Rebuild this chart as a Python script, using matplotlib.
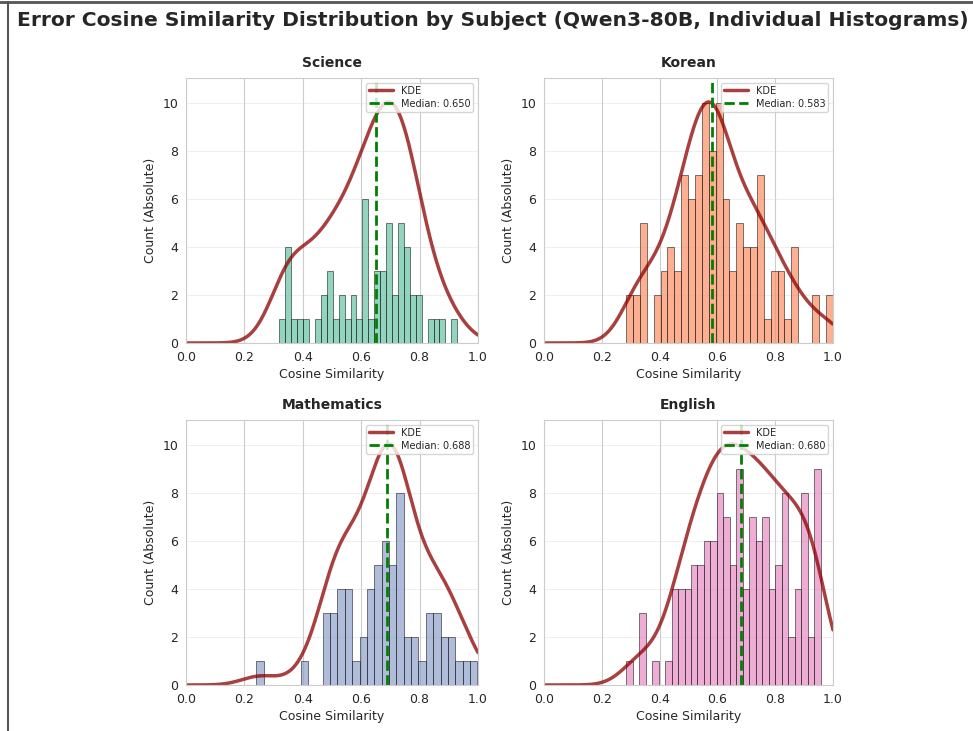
import numpy as np
import matplotlib
matplotlib.use("Agg")
import matplotlib.pyplot as plt
import seaborn as sns
from matplotlib.lines import Line2D

# histogram counts per subject (30 bins each)
subjects = ["Science", "Korean", "Mathematics", "English"]
science_counts = [1, 4, 1, 1, 1, 0, 1, 2, 3, 1, 2, 1, 2, 1, 6,
                  1, 3, 3, 5, 2, 5, 4, 2, 2, 0, 1, 1, 1, 0, 1]
korean_counts = [2, 2, 5, 0, 2, 3, 4, 3, 7, 6, 7, 10, 8, 10, 6,
                 3, 5, 4, 4, 7, 1, 3, 3, 1, 4, 0, 0, 2, 0, 2]
math_counts = [1, 0, 0, 0, 0, 0, 1, 0, 0, 3, 3, 4, 4, 1, 2,
               4, 5, 6, 5, 8, 2, 2, 1, 3, 3, 2, 2, 1, 1, 1]
english_counts = [1, 0, 3, 0, 1, 0, 1, 4, 4, 4, 5, 5, 6, 6, 8,
                  7, 5, 9, 4, 7, 6, 7, 4, 5, 8, 2, 4, 8, 2, 9]
# data min / max of each subject (histogram range)
bin_ranges = [(0.320, 0.929), (0.284, 0.999), (0.241, 0.998), (0.284, 0.958)]
medians = [0.650, 0.583, 0.688, 0.680]

colors = ["#66c2a5", "#fc8d62", "#8da0cb", "#e78ac3"]
all_counts = [science_counts, korean_counts, math_counts, english_counts]

sns.set_style("whitegrid")
plt.rcParams["font.family"] = ["DejaVu Sans"]

fig = plt.figure(figsize=(9.73, 7.31), dpi=100)
W, H = 973, 731
# axes boxes in pixels: left, top, right, bottom
boxes = [(186, 78, 478, 343), (544, 78, 833, 343),
         (186, 420, 478, 685), (544, 420, 833, 685)]

x_eval = np.linspace(0, 1, 400)

for i, name in enumerate(subjects):
    l, t, r, b = boxes[i]
    ax = fig.add_axes([l / W, 1 - b / H, (r - l) / W, (b - t) / H])
    counts = np.array(all_counts[i], dtype=float)
    lo, hi = bin_ranges[i]
    edges = np.linspace(lo, hi, len(counts) + 1)
    centers = (edges[:-1] + edges[1:]) / 2

    ax.hist(centers, bins=edges, weights=counts, color=colors[i], alpha=0.7,
            edgecolor="black", linewidth=0.5)

    # gaussian KDE from the binned values, scott bandwidth
    n = counts.sum()
    mean = (centers * counts).sum() / n
    std = np.sqrt((counts * (centers - mean) ** 2).sum() / (n - 1))
    bw = std * n ** (-1 / 5)
    dens = (counts[None, :] * np.exp(-0.5 * ((x_eval[:, None] - centers[None, :]) / bw) ** 2)).sum(axis=1)
    dens = dens / dens.max() * 10.05
    ax.plot(x_eval, dens, color="darkred", linewidth=2.5, alpha=0.75, label="KDE")

    ax.axvline(medians[i], color="green", linestyle="--", linewidth=2,
               label=f"Median: {medians[i]:.3f}")

    ax.set_xlim(0, 1)
    ax.set_ylim(0, 11.05)
    ax.set_xticks([0.0, 0.2, 0.4, 0.6, 0.8, 1.0])
    ax.set_yticks([0, 2, 4, 6, 8, 10])
    ax.tick_params(labelsize=9, pad=2)
    ax.set_title(name, fontsize=10, fontweight="bold", pad=8)
    ax.set_xlabel("Cosine Similarity", fontsize=9, labelpad=3)
    ax.set_ylabel("Count (Absolute)", fontsize=9, labelpad=4)
    ax.grid(True, axis="y", alpha=0.3)
    ax.legend(loc="upper right", fontsize=7, framealpha=0.8,
              borderpad=0.3, handlelength=2.5, labelspacing=0.3)

fig.text(493 / W, 1 - 21 / H,
         "Error Cosine Similarity Distribution by Subject (Qwen3-80B, Individual Histograms)",
         ha="center", va="center", fontsize=14.6, fontweight="bold", color="#262626")

# screenshot frame lines
fig.add_artist(Line2D([0, 1], [1 - 1.5 / H, 1 - 1.5 / H], color="#555555", linewidth=2))
fig.add_artist(Line2D([8 / W, 8 / W], [0, 1 - 1.5 / H], color="#555555", linewidth=1.5))

fig.savefig("out.png", dpi=100)
